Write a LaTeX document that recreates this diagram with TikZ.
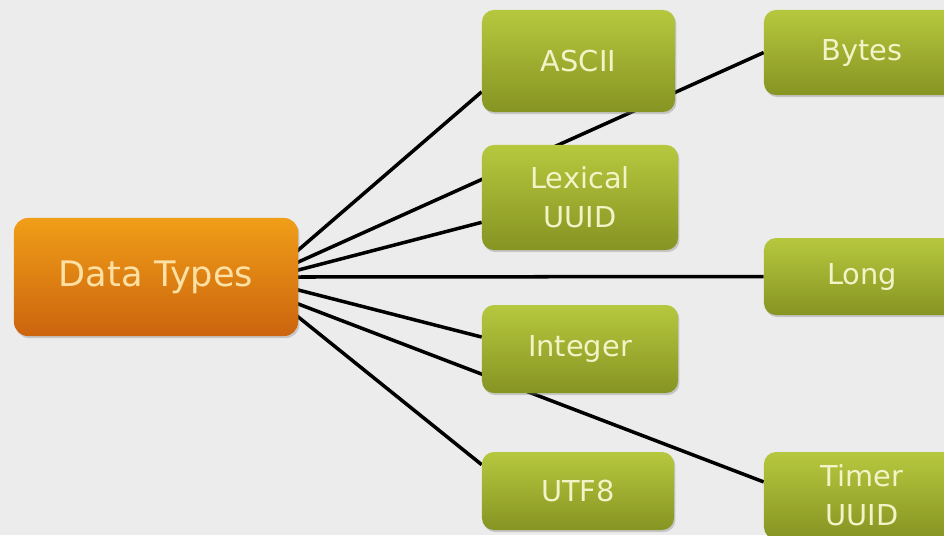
\documentclass[tikz,border=0pt]{standalone}
\usepackage{fontspec}
\setmainfont{DejaVu Sans}
\usetikzlibrary{calc,shadows,backgrounds}

\definecolor{bgray}{RGB}{236,236,236}
\definecolor{otop}{RGB}{240,158,24}
\definecolor{obot}{RGB}{204,100,14}
\definecolor{gtop}{RGB}{182,200,62}
\definecolor{gbot}{RGB}{134,148,34}
\definecolor{gtext}{RGB}{243,243,200}
\definecolor{otext}{RGB}{253,224,164}

\tikzset{
  typebox/.style={rounded corners=0.3cm, top color=gtop, bottom color=gbot,
    text=gtext, font=\fontsize{20.5}{28}\selectfont, align=center, inner sep=0pt,
    drop shadow={opacity=0.35,shadow xshift=1pt,shadow yshift=-1.5pt}},
  rootbox/.style={rounded corners=0.35cm, top color=otop, bottom color=obot,
    text=otext, font=\fontsize{25}{30}\selectfont, inner sep=0pt,
    drop shadow={opacity=0.35,shadow xshift=1pt,shadow yshift=-1.5pt}},
  link/.style={line width=2.5pt, shorten <=-6pt}
}

\begin{document}
\begin{tikzpicture}[x=0.025cm,y=-0.025cm]
  \useasboundingbox (0,0) rectangle (944,535);

  \node[rootbox, minimum width=7.1cm, minimum height=2.95cm] (types) at (156,277) {Data Types};

  % left column
  \node[typebox, minimum width=4.825cm, minimum height=2.55cm] (ascii) at (578.5,61) {ASCII};
  \node[typebox, minimum width=4.9cm, minimum height=2.625cm] (lexical) at (580,197.5) {Lexical\\UUID};
  \node[typebox, minimum width=4.9cm, minimum height=2.2cm] (integer) at (580,349) {Integer};
  \node[typebox, minimum width=4.8cm, minimum height=1.95cm] (utf) at (578,491) {UTF8};

  % right column
  \node[typebox, minimum width=4.9cm, minimum height=2.125cm] (bytes) at (862,52.5) {Bytes};
  \node[typebox, minimum width=4.9cm, minimum height=1.925cm] (long) at (862,276.5) {Long};
  \node[typebox, minimum width=4.9cm, minimum height=2.175cm] (timer) at (862,495.5) {Timer\\UUID};

  \begin{scope}[on background layer]
    \fill[bgray] (0,0) rectangle (944,535);
    \draw[link] ($(types.east)+(0,-27)$) -- ($(ascii.west)!0.6!(ascii.south west)$);
    \draw[link] ($(types.east)+(0,-15)$) -- (bytes.west);
    \draw[link] ($(types.east)+(0,-7)$) -- ($(lexical.west)!0.47!(lexical.south west)$);
    \draw[link] (types.east) -- (long.west);
    \draw[link] ($(types.east)+(0,13)$) -- ($(integer.west)!0.27!(integer.north west)$);
    \draw[link] ($(types.east)+(0,27)$) -- ($(timer.west)!0.31!(timer.north west)$);
    \draw[link] ($(types.east)+(0,40)$) -- ($(utf.west)!0.67!(utf.north west)$);
  \end{scope}
\end{tikzpicture}
\end{document}
